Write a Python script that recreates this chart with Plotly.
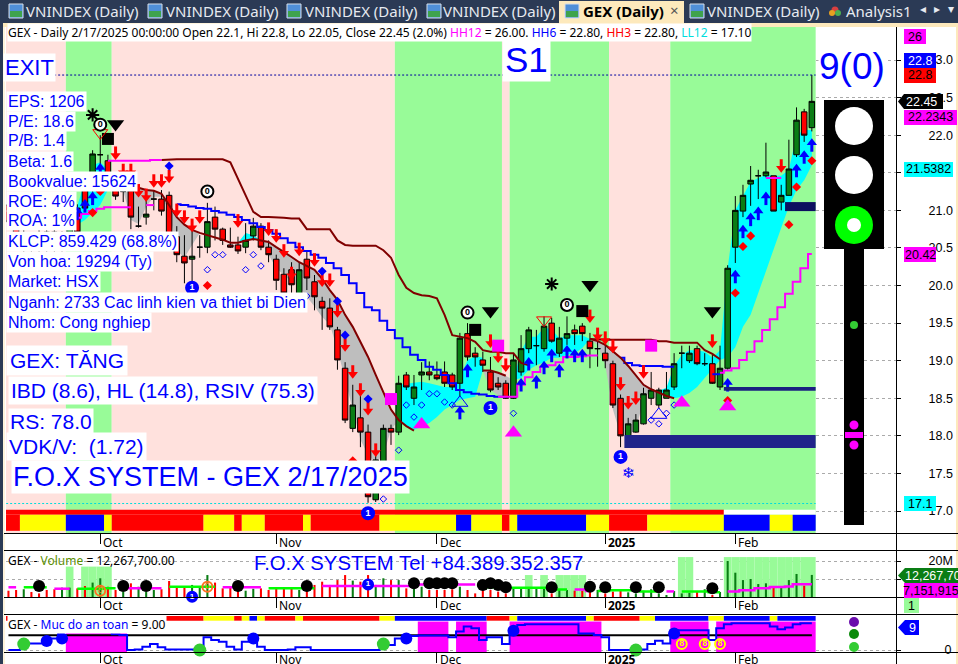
import plotly.graph_objects as go

W, H = 958, 664
F = "Liberation Sans"


def runs(*pairs):
    out = []
    for v, n in pairs:
        out += [v] * n
    return out


def segs(state):
    out, a = [], 0
    for k in range(1, len(state) + 1):
        if k == len(state) or state[k] != state[a]:
            out.append(((a + k - 1) / 2, k - a, state[a]))
            a = k
    return out


bar_idx = list(range(106))
tick_idx = [12, 35, 56, 78, 95]
tick_text = ["Oct", "Nov", "Dec", "<b>2025</b>", "Feb"]
price_ticks = [17.0, 17.5, 18.0, 18.5, 19.0, 19.5, 20.0, 20.5, 21.0, 21.5, 22.0, 22.5, 23.0]

# OHLC, bars 0..105
opens = [21.07, 20.87, 20.47, 20.60, 20.67, 20.71, 20.71, 20.47, 20.60, 21.03, 21.27, 21.43, 21.74, 21.66, 21.27, 21.25, 21.26, 20.79, 20.91, 21.15,
         21.15, 21.20, 20.65, 20.39, 20.35, 20.51, 20.51, 20.91, 20.75, 20.54, 20.54, 20.51, 20.66, 20.79, 20.51, 20.35, 20.15, 20.21, 19.85, 20.35,
         20.05, 19.79, 19.70, 19.41, 18.90, 18.10, 18.24, 18.05, 17.15, 17.55, 18.10, 18.05, 18.81, 18.50, 18.81, 18.85, 18.81, 18.85, 18.81, 18.70,
         19.36, 19.10, 19.01, 18.85, 18.70, 18.70, 18.50, 18.85, 19.16, 19.20, 19.16, 19.50, 19.10, 19.30, 19.41, 19.46, 19.26, 19.16, 19.10, 18.96,
         18.50, 18.00, 18.05, 18.16, 18.50, 18.41, 18.50, 18.65, 19.10, 19.00, 19.16, 18.96, 18.96, 18.65, 18.90, 20.51, 20.99, 21.35, 21.46, 21.46,
         21.46, 21.11, 21.20, 21.74, 22.31, 22.10]
highs = [21.14, 20.94, 20.77, 20.67, 20.74, 20.78, 20.78, 20.72, 20.82, 21.08, 21.32, 21.80, 22.00, 21.74, 21.47, 21.34, 21.34, 21.05, 21.16, 21.27,
         21.27, 21.25, 20.79, 20.67, 20.78, 20.67, 21.10, 21.05, 20.77, 20.77, 20.65, 20.83, 20.90, 20.83, 20.60, 20.41, 20.23, 20.31, 20.31, 20.47,
         20.14, 19.85, 19.83, 19.45, 18.98, 18.68, 18.61, 18.15, 17.75, 18.15, 18.15, 18.80, 18.85, 18.81, 18.98, 18.99, 18.99, 18.99, 18.84, 19.37,
         19.50, 19.18, 19.12, 19.05, 18.78, 18.74, 19.10, 19.34, 19.45, 19.41, 19.59, 19.57, 19.45, 19.59, 19.48, 19.50, 19.37, 19.28, 19.21, 19.00,
         18.55, 18.24, 18.29, 18.64, 18.85, 18.64, 18.85, 19.10, 19.20, 19.20, 19.20, 19.10, 19.08, 19.20, 20.27, 21.19, 21.34, 21.59, 21.54, 21.90,
         21.46, 21.34, 21.94, 22.37, 22.35, 22.80]
lows = [20.81, 20.54, 20.41, 20.39, 20.41, 20.41, 20.41, 20.42, 20.55, 20.67, 21.00, 21.20, 21.60, 21.34, 21.14, 21.11, 20.75, 20.77, 20.81, 21.00,
        20.93, 20.54, 20.31, 20.03, 20.03, 20.37, 20.43, 20.60, 20.54, 20.50, 20.42, 20.43, 20.60, 20.47, 20.31, 19.94, 19.81, 19.84, 19.67, 19.94,
        19.67, 19.41, 19.41, 18.88, 18.17, 18.05, 17.85, 17.11, 17.12, 17.48, 17.88, 18.01, 18.61, 18.41, 18.61, 18.74, 18.74, 18.65, 18.61, 18.52,
        19.00, 18.92, 18.85, 18.58, 18.61, 18.49, 18.49, 18.80, 19.10, 18.94, 19.12, 19.24, 19.05, 19.21, 19.21, 19.26, 18.90, 18.92, 18.90, 18.37,
        17.85, 17.99, 18.04, 18.15, 18.41, 18.37, 18.50, 18.61, 18.90, 18.97, 18.94, 18.93, 18.69, 18.61, 18.88, 20.30, 20.91, 21.06, 21.15, 21.44,
        20.99, 21.00, 21.20, 21.71, 21.91, 22.05]
closes = [20.85, 20.60, 20.60, 20.47, 20.47, 20.47, 20.47, 20.67, 20.77, 20.71, 21.03, 21.75, 21.74, 21.43, 21.19, 21.25, 20.91, 20.79, 20.95, 21.15,
          20.99, 20.60, 20.41, 20.30, 20.39, 20.51, 20.85, 20.75, 20.60, 20.51, 20.46, 20.60, 20.79, 20.51, 20.41, 20.07, 19.90, 20.01, 20.21, 20.10,
          19.85, 19.70, 19.45, 19.01, 18.21, 18.41, 18.05, 17.19, 17.68, 18.10, 18.05, 18.70, 18.65, 18.65, 18.85, 18.81, 18.76, 18.70, 18.65, 19.30,
          19.05, 19.05, 18.94, 18.61, 18.65, 18.50, 19.01, 19.16, 19.41, 19.20, 19.46, 19.26, 19.30, 19.36, 19.36, 19.36, 19.16, 19.16, 19.00, 18.41,
          18.00, 18.16, 18.21, 18.56, 18.61, 18.61, 18.61, 18.96, 19.10, 19.10, 18.96, 18.96, 18.70, 18.90, 20.23, 21.00, 21.20, 21.40, 21.46, 21.51,
          20.99, 21.20, 21.55, 22.20, 22.00, 22.45]

band_state = runs(("P", 8), ("G", 6), ("P", 37), ("G", 14), ("P", 1), ("G", 13), ("P", 8), ("G", 19))
strip_one = runs(("R", 94), ("N", 12))
strip_two = runs(("R", 2), ("Y", 6), ("B", 5), ("Y", 1), ("R", 12), ("Y", 4), ("R", 1), ("Y", 3), ("R", 5), ("Y", 1), ("R", 9), ("Y", 10),
                 ("B", 2), ("Y", 4), ("R", 1), ("Y", 1), ("B", 9), ("Y", 3), ("R", 5), ("Y", 10), ("B", 6), ("Y", 3), ("B", 3))
strip_safe = runs(("R", 26), ("Y", 4), ("R", 1), ("Y", 1), ("B", 1), ("Y", 1), ("R", 4), ("Y", 1), ("R", 10), ("Y", 2), ("B", 12), ("R", 3),
                  ("Y", 1), ("B", 9), ("Y", 1), ("R", 6), ("Y", 2), ("B", 7), ("Y", 2), ("B", 6), ("Y", 1), ("B", 5))
strip_col = {"R": "#FF0000", "Y": "#FFFF00", "B": "#0000FF", "N": "#FFFFFF"}

# filled ribbons: (first bar, colour key, top values, bottom values)
ribbons = [
    (8, "c", [20.71, 21.07, 21.40, 21.60, 21.64, 21.54, 21.27], [20.71, 20.81, 20.87, 20.97, 21.07, 21.27, 21.27]),
    (15, "g", [21.34, 21.31, 21.30, 21.27, 21.26, 21.22, 21.07, 20.91, 20.81, 20.74, 20.70, 20.67],
     [21.27, 20.87, 20.82, 21.05, 21.18, 21.18, 21.00, 20.47, 20.37, 20.54, 20.70, 20.67]),
    (30, "c", [20.57, 20.70, 20.67, 20.60], [20.57, 20.60, 20.62, 20.60]),
    (33, "g", [20.60, 20.58, 20.51, 20.45, 20.38, 20.31, 20.26, 20.21, 20.09, 19.94, 19.81, 19.61, 19.45, 19.26, 19.05, 18.81, 18.58, 18.35, 18.21],
     [20.60, 20.41, 20.23, 20.14, 20.05, 19.98, 19.85, 19.72, 19.58, 19.48, 19.15, 18.74, 18.35, 17.95, 17.75, 17.64, 17.75, 18.08, 18.21]),
    (51, "c", [18.68, 18.69, 18.70, 18.72, 18.70, 18.68, 18.65, 18.65, 18.77, 19.01, 19.06, 19.04],
     [18.21, 18.13, 18.08, 18.12, 18.17, 18.25, 18.35, 18.41, 18.48, 18.50, 18.52, 18.87]),
    (62, "g", [18.87, 18.86, 18.84, 18.80, 18.74], [18.87, 18.61, 18.54, 18.50, 18.74]),
    (66, "c", [18.74, 19.13, 19.32, 19.32, 19.44, 19.42, 19.30, 19.34, 19.34, 19.34, 19.29],
     [18.74, 18.77, 18.88, 18.94, 18.98, 19.04, 19.04, 19.08, 19.10, 19.17, 19.29]),
    (76, "g", [19.29, 19.26, 19.21, 19.13, 19.04, 18.93, 18.80, 18.68, 18.62], [19.29, 19.21, 18.94, 18.35, 18.01, 18.01, 18.08, 18.48, 18.62]),
    (85, "c", [18.60, 18.64, 18.93, 19.08, 19.14, 19.14, 19.12, 19.04, 19.14, 20.23, 21.00, 21.20, 21.38, 21.43, 21.47, 21.46, 21.46, 21.54, 22.00, 22.07, 22.07],
     [18.57, 18.53, 18.50, 18.52, 18.57, 18.65, 18.78, 18.89, 19.01, 19.05, 19.18, 19.45, 19.61, 19.90, 20.17, 20.47, 20.77, 21.05, 21.27, 21.40, 21.60]),
]

# smooth slow line (dark red), three visible stretches
slow_a_start, slow_a = 17, [21.30, 21.27, 21.26, 21.22, 21.07, 20.91, 20.81, 20.74, 20.70, 20.67, 20.65, 20.61, 20.57, 20.57, 20.60, 20.62, 20.60, 20.58,
                            20.51, 20.45, 20.38, 20.31, 20.26, 20.21, 20.09, 19.94, 19.81, 19.61, 19.45, 19.26, 19.05, 18.81, 18.58, 18.35, 18.21, 18.13, 18.07]
slow_b_start, slow_b = 62, [18.87, 18.87, 18.84, 18.80]
slow_c_start, slow_c = 76, [19.29, 19.26, 19.21, 19.13, 19.04, 18.93, 18.80, 18.68, 18.62, 18.57, 18.53, 18.50]

# stepped upper line (dark red)
upper_a_start, upper_a = 20, [21.67, 21.68, 21.68, 21.68, 21.68, 21.68, 21.68, 21.68, 21.68, 21.64, 21.43, 21.20, 20.98, 20.91, 20.91, 20.91, 20.90, 20.89, 20.89,
                              20.75, 20.75, 20.75, 20.75, 20.60, 20.54, 20.53, 20.53, 20.53, 20.53, 20.47, 20.37, 20.14, 19.97, 19.90, 19.87, 19.86, 19.83,
                              19.61, 19.34, 19.32, 19.30, 19.25, 19.14, 19.12, 19.12, 19.10, 19.10, 18.97, 18.94]
upper_b_start, upper_b = 76, [19.29, 19.28, 19.28, 19.28, 19.28, 19.28, 19.28, 19.28, 19.28, 19.26, 19.26, 19.24, 19.24, 19.24, 19.24, 19.14, 19.09, 19.02]

# stepped blue line
blue_a_start, blue_a = 22, [21.08, 21.07, 21.05, 21.03, 21.02, 20.99, 20.97, 20.94, 20.91, 20.87, 20.83, 20.78, 20.74, 20.69, 20.63, 20.57, 20.51, 20.46, 20.41, 20.37,
                            20.30, 20.23, 20.14, 20.03, 19.90, 19.71, 19.67, 19.53, 19.41, 19.30, 19.18, 19.08, 19.01, 18.92, 18.88, 18.81, 18.70, 18.61, 18.58,
                            18.56, 18.55, 18.53, 18.52, 18.52]
blue_b_start, blue_b = 80, [19.04, 18.97, 18.94, 18.93, 18.93, 18.93, 18.92, 18.92]
blue_c_start, blue_c = 92, [18.82, 18.82]

# stepped magenta lines
mag_a_start, mag_a = 9, [20.90, 20.95, 20.99, 21.02, 21.04, 21.04, 21.04, 21.04]
mag_b_start, mag_b = 18, [21.07, 21.07]
mag_c_start, mag_c = 64, [18.52, 18.52, 18.52, 18.68, 18.78, 18.85, 18.92, 18.94, 18.98, 19.05, 19.05, 19.06, 19.07, 19.07]
mag_d_start, mag_d = 93, [18.84, 18.87, 18.90, 19.01, 19.12, 19.26, 19.41, 19.55, 19.71, 19.89, 20.05, 20.23, 20.42]
mag_e_start, mag_e = 13, [21.66, 21.66, 21.66, 21.66, 21.66, 21.66, 21.67, 21.67]
mag_f_start, mag_f = 99, [21.43, 21.43, 21.43]

hh6_level, ll12_level = 22.80, 17.10

red_arrow_idx = [14, 15, 16, 17, 18, 19, 20, 21, 22, 23, 24, 25, 30, 34, 35, 36, 37, 38, 40, 41, 42, 43, 44, 45, 46, 47, 48, 63, 64, 65, 76, 77, 78, 79, 80, 81, 82, 83, 92, 101]
red_arrow_val = [21.67, 21.44, 21.44, 21.17, 21.11, 21.30, 21.30, 21.36, 20.91, 20.82, 20.71, 20.82, 20.77, 20.66, 20.57, 20.37, 20.07, 20.39, 20.25, 19.98, 19.98, 19.57,
                 19.12, 18.76, 18.52, 18.27, 17.72, 19.17, 18.97, 18.85, 19.50, 19.26, 19.21, 19.10, 18.60, 18.35, 18.41, 18.76, 19.17, 21.50]
blue_arrow_idx = [9, 10, 11, 12, 59, 60, 67, 68, 69, 70, 71, 72, 73, 74, 75, 94, 95, 96, 97, 98, 99, 103, 104, 105]
blue_arrow_val = [21.05, 21.15, 21.25, 21.63, 18.40, 18.96, 18.77, 19.05, 18.81, 19.00, 19.16, 18.96, 19.21, 19.16, 19.16, 18.77, 20.21, 20.81, 20.97, 21.05, 21.25, 21.62, 21.80, 21.96]

red_dot_idx = [11, 12, 26, 45, 94, 95, 96, 97, 102, 103, 105]
red_dot_val = [20.97, 21.25, 20.00, 17.67, 18.47, 19.90, 20.52, 20.66, 20.81, 21.31, 21.66]
blue_dot_idx = [21, 41, 43, 44, 47]
blue_dot_val = [21.59, 20.19, 19.79, 19.34, 18.49]
open_dot_idx = [26, 27, 28, 31, 32, 33, 39, 49, 51, 52, 53, 54, 55, 56, 57, 58, 66, 84, 85, 86, 87]
open_dot_val = [20.21, 20.41, 20.41, 20.21, 20.41, 20.26, 19.86, 17.16, 17.81, 18.41, 18.25, 18.41, 18.56, 18.56, 18.45, 18.41, 18.30, 18.21, 18.16, 18.30, 18.41]

star_idx, star_val = [11, 71], [22.27, 20.02]
zero_idx, zero_val = [12, 26, 60, 73], [22.14, 21.25, 19.64, 19.74]
down_idx, down_val = [14, 63, 76, 92], [22.15, 19.66, 20.01, 19.66]
sq_idx, sq_val = [13, 61, 75], [21.95, 19.41, 19.66]
red_tri_idx, red_tri_val = [12, 70], [22.03, 19.54]
mag_sq_idx, mag_sq_val = [50, 64, 84], [18.49, 19.20, 19.20]
mag_up_idx, mag_up_val = [54, 66, 88, 94], [18.15, 18.04, 18.44, 18.39]
blue_tri_idx, blue_tri_val = [59, 85], [18.44, 18.28]
one_idx, one_val = [24, 47, 63, 80], [19.97, 16.97, 18.37, 17.72]
snow_idx, snow_val = [47, 81], [16.66, 17.49]

navy_x0 = [102, 94, 81]
navy_x1 = [105, 105, 105]
navy_lo = [20.99, 18.60, 17.84]
navy_hi = [21.11, 18.65, 18.01]
navy_col = ["#0D0F5F", "#1B1F80", "#20248A"]

volume_m = [3.5, 3.9, 4.3, 2.8, 2.0, 3.9, 4.3, 5.2, 5.2, 4.8, 6.1, 8.0, 10.4, 5.7, 3.9, 3.0, 7.6, 5.7, 3.0, 3.9, 4.3, 8.9, 5.7, 5.7, 6.7, 5.7, 12.2, 8.0, 4.8, 5.4,
            5.2, 3.5, 4.6, 4.8, 3.9, 4.8, 5.2, 4.8, 3.9, 5.7, 6.7, 8.5, 6.7, 9.4, 12.2, 9.1, 8.5, 12.2, 6.7, 10.4, 9.4, 9.4, 4.8, 5.7, 5.7, 3.9, 3.9, 3.9, 4.3, 5.7,
            3.9, 2.0, 3.9, 3.9, 3.0, 2.0, 5.4, 4.8, 4.8, 4.8, 4.8, 2.0, 4.3, 3.9, 3.5, 3.5, 3.9, 3.9, 2.0, 3.0, 4.4, 2.6, 2.0, 3.5, 4.3, 2.0, 1.1, 3.3, 2.0, 2.4,
            2.8, 4.3, 1.1, 2.8, 20.0, 13.5, 9.4, 10.0, 7.2, 7.6, 6.1, 5.4, 9.4, 12.8, 6.3, 12.27]
volume_ma = runs((5.4, 6), (4.6, 7), (4.8, 8), (5.7, 7), (5.4, 6), (4.8, 7), (6.1, 12), (7.0, 9), (5.4, 4), (5.2, 5), (4.8, 1), (4.1, 4), (3.3, 3), (3.7, 4),
                 (3.1, 5), (3.0, 4), (2.6, 2), (3.0, 2), (3.7, 2), (4.8, 2), (5.6, 2), (5.9, 1), (7.15, 3))
volume_ma_key = runs(("m", 2), ("g", 4), ("m", 3), ("g", 6), ("m", 6), ("g", 7), ("m", 6), ("g", 7), ("m", 21), ("g", 12), ("m", 3), ("g", 9), ("m", 2), ("g", 6), ("m", 12))
volume_hl = runs((None, 8), (16.9, 1), (None, 1), (16.9, 4), (None, 54), (12.2, 1), (None, 1), (12.2, 1), (None, 1), (12.2, 4), (None, 12), (22.2, 2), (None, 4), (22.2, 12))
vol_ticks = [0, 10, 20]
vol_tick_text = ["", "", "20M"]
vol_black_idx = [4, 15, 18, 30, 39, 53, 55, 56, 57, 58, 62, 63, 64, 65, 71, 76, 78, 82, 85, 92]
vol_black_val = [6.1, 6.1, 6.1, 6.1, 6.1, 7.6, 7.6, 7.6, 7.6, 7.6, 6.7, 7.6, 6.7, 5.4, 5.4, 5.7, 5.4, 5.4, 5.4, 4.8]
vol_one_idx, vol_one_val = [1, 24, 47, 63, 80], [-2.6, 0.2, 7.0, -3.1, -2.0]
vol_zero_idx, vol_zero_val = [12, 26, 60, 73], [3.5, 5.7, -0.8, -3.1]

safety = [0, 0, 2.2, 2.2, 2.2, 3.1, 3.9, 6.2, 6.4, 6.4, 6.4, 6.4, 6.4, 6.4, 5.3, 5.1, 0, 0.2, 1.1, 2.0, 0.9, 0.2, 0.2, 0.2, 0.2, 0.9, 4.3, 3.4, 2.8, 1.1,
          0.2, 2.8, 2.8, 1.1, 0, 0, 0, 0.2, 0.9, 0.9, 0, 0, 0, 0, 0, 0, 0, 0, 0, 1.1, 1.7, 3.9, 4.3, 4.7, 4.9, 4.9, 4.9, 4.9, 4.3, 6.2,
          7.9, 7.3, 3.4, 4.3, 4.3, 2.0, 7.3, 8.4, 8.7, 8.7, 8.7, 8.7, 8.7, 8.7, 8.7, 5.6, 5.6, 5.1, 4.3, 0, 0, 0, 0, 0.2, 2.0, 3.1, 2.2, 6.2, 6.7, 6.7,
          6.7, 6.7, 3.4, 7.3, 8.7, 9, 9, 9, 9, 9, 7.9, 7.0, 7.6, 8.7, 9, 9]
safety_block = runs((None, 8), (6.4, 8), (None, 38), (9.6, 4), (None, 1), (9.6, 4), (None, 3), (9.6, 12), (None, 9), (9.6, 5), (None, 1), (9.6, 13))
safety_mid = 5
safe_green_idx, safe_green_val = [2, 25, 49, 82], [2.0, 0.0, 2.0, 0.0]
safe_blue_idx, safe_blue_val = [5, 7, 32, 52, 66, 87], [3.0, 3.9, 3.9, 3.9, 6.5, 5.6]
safe_eight_idx, safe_eight_val = [88, 91, 93], [2.0, 2.0, 2.0]
safe_one_idx, safe_zero_idx, safe_nine_idx = [1, 24, 47, 63, 80], [12, 26, 60, 73], [94]
safe_row_val = -3.1


def px(x):
    return x / W


def py(y):
    return 1 - y / H


fig = go.Figure()
XD = [px(6), px(896)]
XR = [-0.32, 116.0]
YR = [16.708, 23.439]
band_col = {"P": "#FFE1DD", "G": "#98FB98"}


def seg_bar(state, colors, base, height, xa="x", ya="y"):
    sg = segs(state)
    fig.add_bar(x=[s[0] for s in sg], y=[height] * len(sg), base=base, width=[s[1] for s in sg], xaxis=xa, yaxis=ya,
                marker=dict(color=[colors[s[2]] for s in sg], line_width=0))


# --- under layer
seg_bar(band_state, band_col, YR[0], YR[1] - YR[0])
seg_bar(strip_one, strip_col, 16.950, 0.066)
seg_bar(strip_two, strip_col, 16.737, 0.213)
rib_col = {"c": "#00FFFF", "g": "#BEBEBE"}
for start, key, top, bot in ribbons:
    xs = [start + k for k in range(len(top))]
    fig.add_scatter(x=xs + xs[::-1], y=top + bot[::-1], mode="lines", line=dict(width=0), fill="toself", fillcolor=rib_col[key])

# --- candles
fig.add_candlestick(x=bar_idx, open=opens, high=highs, low=lows, close=closes, xaxis="x2", yaxis="y2", whiskerwidth=0,
                    increasing=dict(fillcolor="#0A7D14", line=dict(color="#000000", width=1)),
                    decreasing=dict(fillcolor="#FF0000", line=dict(color="#000000", width=1)))


def over(**k):
    k.setdefault("cliponaxis", False)
    fig.add_scatter(xaxis="x3", yaxis="y3", **k)


def stretch(start, vals, color, width, shape="hvh"):
    over(x=[start + k for k in range(len(vals))], y=vals, mode="lines", line=dict(color=color, width=width, shape=shape))


for s, v in [(upper_a_start, upper_a), (upper_b_start, upper_b)]:
    stretch(s, v, "#800000", 2, "linear")
for s, v in [(blue_a_start, blue_a), (blue_b_start, blue_b), (blue_c_start, blue_c)]:
    stretch(s, v, "#0000FF", 2)
for s, v in [(mag_a_start, mag_a), (mag_b_start, mag_b), (mag_c_start, mag_c), (mag_d_start, mag_d), (mag_e_start, mag_e), (mag_f_start, mag_f)]:
    stretch(s, v, "#FF00FF", 2)
for s, v in [(slow_a_start, slow_a), (slow_b_start, slow_b), (slow_c_start, slow_c)]:
    stretch(s, v, "#800000", 2, "linear")
over(x=[-0.3, 105.5], y=[hh6_level, hh6_level], mode="lines", line=dict(color="#0000A0", width=1, dash="2px,2px"))
over(x=[-0.3, 105.5], y=[ll12_level, ll12_level], mode="lines", line=dict(color="#00DDDD", width=1, dash="2px,2px"))


def marks(xs, ys, symbol, size, color, line=None, lw=0):
    over(x=xs, y=ys, mode="markers", marker=dict(symbol=symbol, size=size, color=color, line=dict(color=line or color, width=lw)))


over(x=red_arrow_idx, y=[v + 0.06 for v in red_arrow_val], mode="markers",
     marker=dict(symbol="triangle-down", size=9, color="#FF0000", line_width=0),
     error_y=dict(type="data", symmetric=False, array=[0.12] * len(red_arrow_idx), arrayminus=[0] * len(red_arrow_idx), thickness=3, width=0, color="#FF0000"))
over(x=blue_arrow_idx, y=[v - 0.06 for v in blue_arrow_val], mode="markers",
     marker=dict(symbol="triangle-up", size=9, color="#0000FF", line_width=0),
     error_y=dict(type="data", symmetric=False, array=[0] * len(blue_arrow_idx), arrayminus=[0.12] * len(blue_arrow_idx), thickness=3, width=0, color="#0000FF"))
marks(red_dot_idx, red_dot_val, "diamond", 7, "#FF0000")
marks(blue_dot_idx, blue_dot_val, "diamond", 7, "#0000FF")
marks(open_dot_idx, open_dot_val, "diamond-open", 5, "#0000FF", lw=1)
marks(star_idx, star_val, "asterisk-open", 11, "#000000", lw=2)
marks(down_idx, down_val, "triangle-down", 15, "#000000")
marks(sq_idx, sq_val, "square", 12, "#000000")
marks(red_tri_idx, red_tri_val, "triangle-down-open", 13, "#FF0000", lw=1)
marks(mag_sq_idx, mag_sq_val, "square", 12, "#FF00FF")
marks(mag_up_idx, mag_up_val, "triangle-up", 15, "#FF00FF")
marks(blue_tri_idx, blue_tri_val, "triangle-up-open", 14, "#0000FF", lw=1)


def badge(xs, ys, txt, fill, edge, tcol, xa="x3", ya="y3", size=12, fsize=9):
    fig.add_scatter(x=xs, y=ys, xaxis=xa, yaxis=ya, mode="markers+text", cliponaxis=False, text=[txt] * len(xs), textposition="middle center",
                    textfont=dict(family=F, size=fsize, color=tcol), marker=dict(symbol="circle", size=size, color=fill, line=dict(color=edge, width=2)))


badge(zero_idx, zero_val, "<b>0</b>", "#FFFFFF", "#000000", "#000000")
badge(one_idx, one_val, "<b>1</b>", "#0000FF", "#0000FF", "#FFFFFF")
over(x=snow_idx, y=snow_val, mode="text", text=["❄"] * 2, textposition="middle center", textfont=dict(family="DejaVu Sans", size=15, color="#0000FF"))

# --- volume panel
up = [c >= o for o, c in zip(opens, closes)]
fig.add_bar(x=bar_idx, y=volume_hl, width=1, xaxis="x4", yaxis="y4", marker=dict(color="#98FB98", line_width=0))
fig.add_bar(x=bar_idx, y=volume_m, width=0.27, xaxis="x4", yaxis="y4", marker=dict(color=["#0A7D14" if u else "#FF0000" for u in up], line_width=0))
for key, col in [("m", "#FF00FF"), ("g", "#00FF00")]:
    xs, ys = [], []
    for k in bar_idx:
        xs.append(k)
        ys.append(volume_ma[k] if volume_ma_key[k] == key else None)
    fig.add_scatter(x=xs, y=ys, xaxis="x4", yaxis="y4", mode="lines", connectgaps=False, line=dict(color=col, width=2.5, shape="hvh"))
fig.add_scatter(x=vol_black_idx, y=vol_black_val, xaxis="x4", yaxis="y4", mode="markers", marker=dict(size=12, color="#000000"))
badge(vol_one_idx, vol_one_val, "<b>1</b>", "#0000FF", "#0000FF", "#FFFFFF", "x4", "y4", 10, 8)
badge(vol_zero_idx, vol_zero_val, "0", "rgba(0,0,0,0)", "#FF7020", "#FF7020", "x4", "y4", 10, 9)

# --- safety panel
blocks = [s for s in segs(safety_block) if s[2] is not None]
fig.add_bar(x=[s[0] for s in blocks], y=[s[2] + 0.67 for s in blocks], base=-0.67, width=[s[1] for s in blocks], xaxis="x5", yaxis="y5", marker=dict(color="#FF00FF", line_width=0))
seg_bar(strip_safe, strip_col, 9.89, 1.57, "x5", "y5")
fig.add_scatter(x=[0, 105], y=[safety_mid, safety_mid], xaxis="x5", yaxis="y5", mode="lines", line=dict(color="#000000", width=2))
fig.add_scatter(x=bar_idx, y=safety, xaxis="x5", yaxis="y5", mode="lines", line=dict(color="#0000FF", width=2, shape="hvh"))
fig.add_scatter(x=safe_green_idx, y=safe_green_val, xaxis="x5", yaxis="y5", mode="markers", cliponaxis=False, marker=dict(size=13, color="#33CC33"))
fig.add_scatter(x=safe_blue_idx, y=safe_blue_val, xaxis="x5", yaxis="y5", mode="markers", cliponaxis=False, marker=dict(size=12, color="#0000FF"))
badge(safe_eight_idx, safe_eight_val, "<b>8</b>", "rgba(0,0,0,0)", "#FFFF00", "#FFFF00", "x5", "y5", 10, 9)
badge(safe_one_idx, [safe_row_val] * 5, "<b>1</b>", "#0000FF", "#0000FF", "#FFFFFF", "x5", "y5", 10, 8)
badge(safe_zero_idx, [safe_row_val] * 4, "0", "rgba(0,0,0,0)", "#FF7020", "#FF7020", "x5", "y5", 10, 9)
badge(safe_nine_idx, [safe_row_val], "<b>9</b>", "#FFFFFF", "#000000", "#000000", "x5", "y5", 10, 8)

# --- shapes
shapes = []


def rect(x0, y0, x1, y1, fill, line=None, lw=0):
    shapes.append(dict(type="rect", xref="paper", yref="paper", x0=px(x0), x1=px(x1), y0=py(y1), y1=py(y0), fillcolor=fill, line=dict(color=line or fill, width=lw)))


def circ(cx, cy, r, fill):
    shapes.append(dict(type="circle", xref="paper", yref="paper", x0=px(cx - r), x1=px(cx + r), y0=py(cy + r), y1=py(cy - r), fillcolor=fill, line=dict(width=0)))


def hline(y, x0=4, x1=958, col="#000000", lw=1):
    shapes.append(dict(type="line", xref="paper", yref="paper", x0=px(x0), x1=px(x1), y0=py(y), y1=py(y), line=dict(color=col, width=lw)))


def poly(pts, fill):
    d = "M " + " L ".join(f"{px(a):.5f} {py(b):.5f}" for a, b in pts) + " Z"
    shapes.append(dict(type="path", xref="paper", yref="paper", path=d, fillcolor=fill, line=dict(width=0)))


rect(0, 0, 958, 23, "#2B3A55")
rect(0, 23, 958, 27, "#FDE9BC")
rect(0, 23, 3, 664, "#2B3A55")
rect(3, 27, 5, 664, "#FDF3DC")
rect(956, 27, 958, 664, "#FDE9BC")
rect(559, 1, 684, 24, "#FDE9BC")
for ix in [9, 148, 287, 427, 565, 690]:
    rect(ix, 4, ix + 14, 18, "#4F8FD8", "#D5DDE8", 1)
    rect(ix + 1, 11, ix + 13, 17, "#3FA34D")
circ(835, 10, 3.5, "#D94040")
circ(832, 13, 3, "#E8A020")
circ(838, 13, 3, "#4CAF50")

for i in range(3):
    x0, x1, lo, hi, c = navy_x0[i] - 0.5, navy_x1[i] + 0.5, navy_lo[i], navy_hi[i], navy_col[i]
    shapes.append(dict(type="rect", xref="x3", yref="y3", x0=x0, x1=x1, y0=lo, y1=hi, fillcolor=c, line=dict(width=0)))

rect(824, 100, 884, 249, "#000000")
rect(844, 249, 864, 525, "#000000")
circ(854, 126, 19, "#FFFFFF")
circ(854, 175, 19, "#FFFFFF")
circ(854, 225, 19, "#00FF00")
circ(854, 225, 7, "#FFFFFF")
circ(854, 325, 4, "#33CC33")
circ(854, 425, 4.5, "#FF00FF")
circ(854, 445, 4.5, "#FF00FF")
rect(845, 432, 863, 438, "#FF00FF")
circ(854, 622, 5, "#6A0DAD")
circ(854, 634, 5, "#0A8A0A")
circ(854, 647, 5, "#33CC33")

for y in [533.5, 550.5, 597.5, 614.5, 652.5]:
    hline(y)
shapes.append(dict(type="line", xref="paper", yref="paper", x0=px(896.5), x1=px(896.5), y0=0, y1=py(27), line=dict(color="#000000", width=1)))

poly([(898, 101.5), (904, 94), (943, 94), (943, 109), (904, 109)], "#000000")
poly([(898, 575.5), (905, 568), (958, 568), (958, 583), (905, 583)], "#0A7D14")
poly([(898, 627.5), (905, 620), (919, 620), (919, 635), (905, 635)], "#0000FF")

# --- annotations
ann = []


def text(t, x, y, size, color="#0000FF", bg=None, family=F, anchor="left", pad=1):
    d = dict(text=t, xref="paper", yref="paper", x=px(x), y=py(y), xanchor=anchor, yanchor="middle", showarrow=False, borderpad=pad,
             font=dict(family=family, size=size, color=color), align="left")
    if bg:
        d["bgcolor"] = bg
    ann.append(d)


TAB = "Noto Sans"
for tx in [25, 165, 304, 442, 706]:
    text("VNINDEX (Daily)", tx, 11, 15, "#E6EAF0", family=TAB, pad=0)
text("<b>GEX (Daily)</b>", 582, 11, 15, "#000000", family=TAB, pad=0)
text("×", 669, 10, 15, "#555555", family=TAB, pad=0)
text("Analysis1", 845, 11, 15, "#E6EAF0", family=TAB, pad=0)
text("◂", 923, 9, 12, "#E6EAF0", family="DejaVu Sans", anchor="center", pad=0)
text("▸", 937, 9, 12, "#E6EAF0", family="DejaVu Sans", anchor="center", pad=0)
text("▾", 951, 9, 12, "#E6EAF0", family="DejaVu Sans", anchor="center", pad=0)

text('GEX - Daily 2/17/2025 00:00:00 Open 22.1, Hi 22.8, Lo 22.05, Close 22.45 (2.0%) <span style="color:#FF00FF">HH12</span> = 26.00. '
     '<span style="color:#0000FF">HH6</span> = 22.80, <span style="color:#FF0000">HH3</span> = 22.80, <span style="color:#00DDDD">LL12</span> = 17.10',
     7, 33, 12, "#000000", "#FFFFFF", family=TAB, pad=0)
text("EXIT", 3, 67, 22, "#0000FF", "#FFFFFF")
text("S1", 502, 59, 35, "#0000FF", "#FFFFFF", pad=2)
text("9(0)", 818, 66, 37, "#0000FF", "#FFFFFF", pad=0)

info_rows = ["EPS: 1206", "P/E: 18.6", "P/B: 1.4", "Beta: 1.6", "Bookvalue: 15624", "ROE: 4%", "ROA: 1%", "KLCP: 859.429 (68.8%)", "Von hoa: 19294 (Ty)",
             "Market: HSX", "Nganh: 2733 Cac linh kien va thiet bi Dien", "Nhom: Cong nghiep"]
info_y = [101, 121, 141, 161, 181, 201, 221, 241, 261, 282, 302, 322]
for t, y in zip(info_rows, info_y):
    text(t, 6, y, 16, "#0000FF", "#FFFFFF")
text("GEX: TĂNG", 6, 360, 21, "#0000FF", "#FFFFFF", pad=3)
text("IBD (8.6), HL (14.8), RSIV (75.3)", 8, 390, 21, "#0000FF", "#FFFFFF", pad=2)
text("RS: 78.0", 8, 421, 21, "#0000FF", "#FFFFFF", pad=1)
text("VDK/V:  (1.72)", 6, 446, 21, "#0000FF", "#FFFFFF", pad=2)
text("F.O.X SYSTEM - GEX 2/17/2025", 11, 477, 27, "#0000FF", "#FFFFFF", pad=1)

for v, tx in zip(tick_idx, tick_text):
    for y, xaxis in [(542, "x"), (605, "x4"), (659, "x5")]:
        ann.append(dict(text=tx, xref=xaxis, yref="paper", x=v, y=py(y), xanchor="left", yanchor="middle", xshift=1, showarrow=False,
                        font=dict(family=TAB, size=12, color="#000000")))

text('GEX - <span style="color:#5A8F00">Volume</span> = 12,267,700.00', 7, 560, 12, "#000000", family=TAB, pad=0)
text("F.O.X SYSTEM Tel +84.389.352.357", 253, 563, 20.3, "#0000FF", pad=0)
text('GEX - <span style="color:#0000FF">Muc do an toan</span> = 9.00', 7, 624, 12, "#000000", "#FFFFFF", family=TAB, pad=0)

tags = [("26", 904, 926, 36.5, "#FF00FF", "#000000"), ("22.8", 904, 936, 60.5, "#0000FF", "#FFFFFF"), ("22.8", 904, 936, 75.5, "#FF0000", "#000000"),
        ("22.2343", 904, 957, 117.5, "#FF00FF", "#000000"), ("21.5382", 904, 953, 169.5, "#00FFFF", "#000000"), ("20.42", 904, 936, 254.5, "#FF00FF", "#000000"),
        ("17.1", 904, 936, 503.5, "#00FFFF", "#000000"), ("7,151,915", 904, 958, 590.5, "#FF00FF", "#000000"), ("1", 904, 919, 605.5, "#98FB98", "#000000")]
for t, x0, x1, yc, bg, fg in tags:
    rect(x0, yc - 7.5, x1, yc + 7.5, bg)
    text(t, (x0 + x1) / 2, yc, 12.5, fg, anchor="center", pad=0)
text("22.45", 921, 101.5, 12.5, "#FFFFFF", anchor="center", pad=0)
text("12,267,700", 904, 575.5, 12.5, "#FFFFFF", pad=0)
text("9", 912, 627.5, 12.5, "#FFFFFF", anchor="center", pad=0)

hidden = dict(showgrid=False, zeroline=False, showticklabels=False, ticks="", showline=False, fixedrange=True)
xbase = dict(domain=XD, range=XR, zeroline=False, showgrid=False, showticklabels=False, ticks="outside", ticklen=10, tickwidth=1, tickcolor="#000000",
             tickmode="array", tickvals=tick_idx, showline=False)
yright = dict(side="right", zeroline=False, showline=False, ticks="outside", ticklen=4, tickwidth=1, tickcolor="#000000", showgrid=True, gridcolor="#AAAAAA",
              griddash="dot", gridwidth=1, tickfont=dict(family=F, size=12.5, color="#000000"))

fig.update_layout(
    width=W, height=H, autosize=False, margin=dict(l=0, r=0, t=0, b=0, autoexpand=False), paper_bgcolor="#FFFFFF", plot_bgcolor="#FFFFFF", showlegend=False,
    barmode="overlay", boxgap=0.28, boxgroupgap=0, hovermode=False, shapes=shapes, annotations=ann,
    xaxis=dict(**xbase, anchor="y"),
    yaxis=dict(**yright, ticklabelstandoff=25, domain=[py(533), py(27)], range=YR, anchor="x", tickmode="array", tickvals=price_ticks, ticktext=[f"{v:.1f}" for v in price_ticks]),
    xaxis2=dict(**hidden, domain=XD, range=XR, overlaying="x", anchor="y2", rangeslider=dict(visible=False)),
    yaxis2=dict(**hidden, domain=[py(533), py(27)], range=YR, overlaying="y", anchor="x2"),
    xaxis3=dict(**hidden, domain=XD, range=XR, overlaying="x", anchor="y3"),
    yaxis3=dict(**hidden, domain=[py(533), py(27)], range=YR, overlaying="y", anchor="x3"),
    xaxis4=dict(**xbase, anchor="y4"),
    yaxis4=dict(**yright, ticklabelstandoff=25, domain=[py(597), py(551)], range=[0, 25.56], anchor="x4", tickmode="array", tickvals=vol_ticks, ticktext=vol_tick_text),
    xaxis5=dict(**xbase, anchor="y5"),
    yaxis5=dict(**yright, ticklabelstandoff=41, domain=[py(652), py(615)], range=[-0.67, 11.8], anchor="x5", tickmode="array", tickvals=[0], ticktext=["0"]),
)

fig.write_html("out.html", config=dict(displayModeBar=False, staticPlot=True),
               post_script="document.body.style.margin='0';document.body.style.overflow='hidden';")
